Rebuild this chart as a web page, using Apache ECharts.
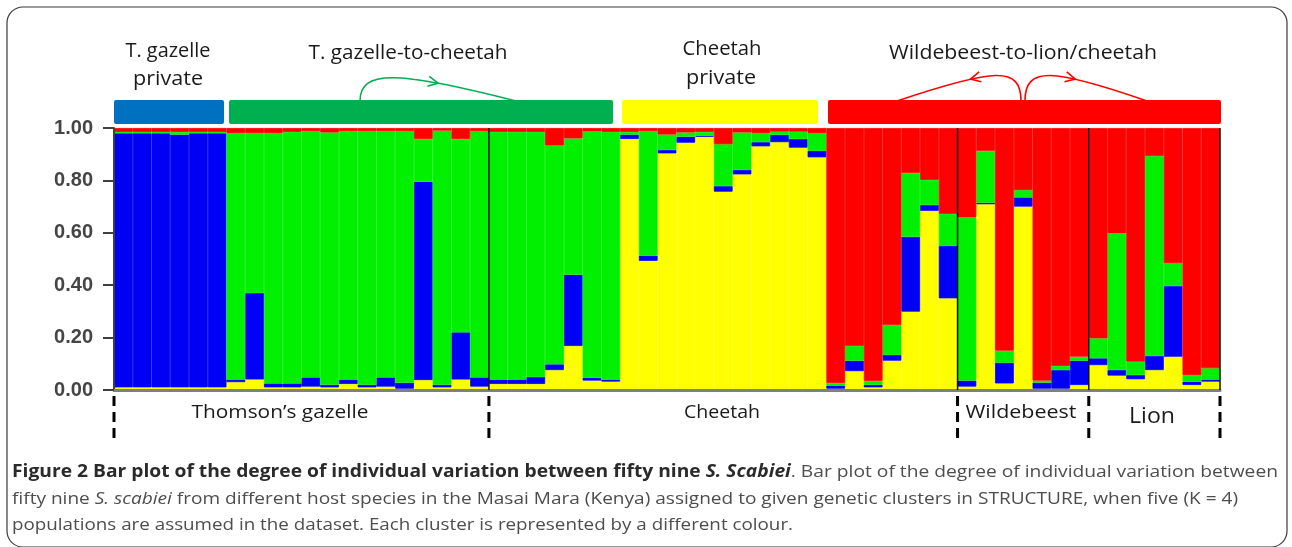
<!DOCTYPE html>
<html><head><meta charset="utf-8">
<script src="https://cdn.jsdelivr.net/npm/echarts@6/dist/echarts.min.js"></script>
<style>html,body{margin:0;padding:0;background:#fff}#c{width:1292px;height:547px}</style>
</head><body><div id="c"></div>
<script>
// ---- data ----
const individuals = ['1','2','3','4','5','6','7','8','9','10','11','12','13','14','15','16','17','18','19','20',
 '21','22','23','24','25','26','27','28','29','30','31','32','33','34','35','36','37','38','39','40',
 '41','42','43','44','45','46','47','48','49','50','51','52','53','54','55','56','57','58','59'];
const yellowVals = [0.01,0.01,0.01,0.01,0.01,0.01,0.03,0.04,0.01,0.01,0.013,0.01,0.023,0.01,0.013,0.005,0.038,0.01,0.04,0.013,
 0.023,0.023,0.023,0.076,0.168,0.036,0.032,0.958,0.493,0.903,0.944,0.967,0.757,0.823,0.93,0.946,0.925,0.888,0.005,0.072,
 0.01,0.112,0.299,0.684,0.35,0.013,0.709,0.025,0.7,0.005,0.005,0.019,0.095,0.055,0.041,0.076,0.127,0.019,0.032];
const blueVals = [0.97,0.97,0.97,0.965,0.97,0.97,0.01,0.33,0.015,0.015,0.035,0.01,0.017,0.01,0.035,0.023,0.757,0.01,0.18,0.035,
 0.017,0.017,0.027,0.022,0.272,0.011,0.008,0.017,0.02,0.013,0.023,0.003,0.021,0.017,0.016,0.028,0.033,0.025,0.012,0.04,
 0.01,0.022,0.286,0.022,0.2,0.023,0.006,0.079,0.035,0.023,0.071,0.093,0.026,0.021,0.016,0.054,0.27,0.013,0.008];
const greenVals = [0.005,0.005,0.005,0.01,0.005,0.005,0.94,0.61,0.955,0.96,0.94,0.963,0.948,0.968,0.94,0.96,0.163,0.97,0.738,0.94,
 0.945,0.945,0.935,0.835,0.52,0.94,0.945,0.01,0.475,0.059,0.016,0.015,0.16,0.143,0.034,0.012,0.028,0.067,0.01,0.056,
 0.015,0.114,0.244,0.096,0.122,0.623,0.198,0.046,0.028,0.008,0.016,0.015,0.076,0.522,0.051,0.763,0.087,0.025,0.043];
const redVals = [0.015,0.015,0.015,0.015,0.015,0.015,0.02,0.02,0.02,0.015,0.012,0.017,0.012,0.012,0.012,0.012,0.042,0.01,0.042,0.012,
 0.015,0.015,0.015,0.067,0.04,0.013,0.015,0.015,0.012,0.025,0.017,0.015,0.062,0.017,0.02,0.014,0.014,0.02,0.973,0.832,
 0.965,0.752,0.171,0.198,0.328,0.341,0.087,0.85,0.237,0.964,0.908,0.873,0.803,0.402,0.892,0.107,0.516,0.943,0.917];
const yTickValues = [0, 0.2, 0.4, 0.6, 0.8, 1.0];
const groupNames = ['Thomson’s gazelle', 'Cheetah', 'Wildebeest', 'Lion'];
const groupBounds = [0, 20, 45, 52, 59];
const clusterLabels = [['T. gazelle','private'], ['T. gazelle-to-cheetah'], ['Cheetah','private'], ['Wildebeest-to-lion/cheetah']];

// ---- chart ----
const chart = echarts.init(document.getElementById('c'), null, {renderer:'canvas'});
function bar(name, vals, color){
  return {name, type:'bar', stack:'q', data:vals, barCategoryGap:'0%', barGap:'0%',
    itemStyle:{color, borderColor:color, borderWidth:0.8}, emphasis:{disabled:true}, silent:true};
}
chart.setOption({
  animation:false,
  backgroundColor:'#ffffff',
  grid:{left:114, right:72, top:128, bottom:157},
  xAxis:{type:'category', data:individuals, boundaryGap:true, z:5,
    axisLine:{lineStyle:{color:'#7f7f7f', width:3}}, axisTick:{show:false}, axisLabel:{show:false}},
  yAxis:{type:'value', min:0, max:1, interval:0.2, z:5,
    axisLine:{show:true, lineStyle:{color:'#404040', width:2}},
    axisTick:{show:true, length:11, lineStyle:{color:'#404040', width:2}},
    splitLine:{show:false},
    axisLabel:{formatter:v=>yTickValues.includes(+v.toFixed(1)) ? v.toFixed(2) : '', margin:21, fontSize:20, fontWeight:'bold', color:'#454545', fontFamily:'Liberation Sans'}},
  series:[
    bar('Cluster Y', yellowVals, '#ffff00'),
    bar('Cluster B', blueVals, '#0000f5'),
    bar('Cluster G', greenVals, '#00f000'),
    bar('Cluster R', redVals, '#ff0000')
  ]
});

// ---- text helpers ----
const mctx = document.createElement('canvas').getContext('2d');
function measure(text, size, family, weight, style){
  mctx.font = `${style||'normal'} ${weight||'normal'} ${size}px "${family}"`;
  return mctx.measureText(text).width;
}
function fitText(text, x, y, targetW, size, family, color, align){
  const w = measure(text, size, family);
  return {type:'text', x, y, scaleX: targetW / w, z:20, silent:true,
    style:{text, x:0, y:0, fontSize:size, fontFamily:family, fill:color, textAlign:align||'center', textVerticalAlign:'middle'}};
}
function richLine(segs, x, y, targetW, size, family){
  let w = 0, text = '';
  const rich = {};
  segs.forEach((s, i) => {
    w += measure(s.t, size, family, s.w, s.s);
    rich['r'+i] = {fontSize:size, fontFamily:family, fontWeight:s.w||'normal', fontStyle:s.s||'normal', fill:s.c};
    text += '{r'+i+'|'+s.t+'}';
  });
  return {type:'text', x, y, scaleX: targetW / w, z:20, silent:true,
    style:{text, rich, x:0, y:0, textAlign:'left', textVerticalAlign:'middle'}};
}
function cubicAt(p, t){
  const u = 1 - t;
  const x = u*u*u*p[0] + 3*u*u*t*p[2] + 3*u*t*t*p[4] + t*t*t*p[6];
  const y = u*u*u*p[1] + 3*u*u*t*p[3] + 3*u*t*t*p[5] + t*t*t*p[7];
  const dx = 3*(u*u*(p[2]-p[0]) + 2*u*t*(p[4]-p[2]) + t*t*(p[6]-p[4]));
  const dy = 3*(u*u*(p[3]-p[1]) + 2*u*t*(p[5]-p[3]) + t*t*(p[7]-p[5]));
  const l = Math.hypot(dx, dy);
  return [x, y, dx/l, dy/l];
}
function arrow(p, t, color){
  const [x, y, dx, dy] = cubicAt(p, t);
  const nx = -dy, ny = dx, L = 10, W = 5;
  return [
    {type:'bezierCurve', z:20, silent:true, shape:{x1:p[0], y1:p[1], cpx1:p[2], cpy1:p[3], cpx2:p[4], cpy2:p[5], x2:p[6], y2:p[7]},
      style:{stroke:color, lineWidth:1.6, fill:null}},
    {type:'polyline', z:20, silent:true, shape:{points:[[x - L*dx + W*nx, y - L*dy + W*ny], [x, y], [x - L*dx - W*nx, y - L*dy - W*ny]]},
      style:{stroke:color, lineWidth:1.6, fill:null}}
  ];
}

// ---- decorations ----
const band = chart.convertToPixel({xAxisIndex:0}, 1) - chart.convertToPixel({xAxisIndex:0}, 0);
const c0 = chart.convertToPixel({xAxisIndex:0}, 0);
const bx = i => c0 - band/2 + i*band;
const y1 = chart.convertToPixel({yAxisIndex:0}, 1);
const y0 = chart.convertToPixel({yAxisIndex:0}, 0);

const g = [];
// frame
g.push({type:'rect', z:1, silent:true, shape:{x:7, y:7, width:1280, height:540, r:16}, style:{fill:null, stroke:'#3a3a3a', lineWidth:1.2}});
// group separators inside plot
[1,2,3,4].forEach(k => {
  const x = bx(groupBounds[k]);
  g.push({type:'line', z:15, silent:true, shape:{x1:x, y1:y1, x2:x, y2:y0}, style:{stroke:'#111', lineWidth:1.5}});
});
// dashed boundaries below
groupBounds.forEach(b => {
  const x = bx(b);
  g.push({type:'line', z:15, silent:true, shape:{x1:x, y1:396, x2:x, y2:440}, style:{stroke:'#000', lineWidth:3, lineDash:[10,6]}});
});
// group labels
g.push(fitText(groupNames[0], 280, 413, 177, 19, 'Open Sans', '#1a1a1a'));
g.push(fitText(groupNames[1], 722, 413, 76, 19, 'Open Sans', '#1a1a1a'));
g.push(fitText(groupNames[2], 1021, 413, 111, 19, 'Open Sans', '#1a1a1a'));
g.push(fitText(groupNames[3], 1152, 417, 46, 22, 'Open Sans', '#1a1a1a'));
// cluster header bars
[[114,224,'#0070c0'],[229,613,'#00b050'],[622,818,'#ffff00'],[828,1221,'#ff0000']].forEach(r => {
  g.push({type:'rect', z:10, silent:true, shape:{x:r[0], y:100, width:r[1]-r[0], height:24, r:2}, style:{fill:r[2]}});
});
// cluster header labels
g.push(fitText(clusterLabels[0][0], 168, 51, 85, 20, 'Open Sans', '#1a1a1a'));
g.push(fitText(clusterLabels[0][1], 168, 79, 70, 20, 'Open Sans', '#1a1a1a'));
g.push(fitText(clusterLabels[1][0], 408, 53, 199, 20, 'Open Sans', '#1a1a1a'));
g.push(fitText(clusterLabels[2][0], 722, 49, 79, 20, 'Open Sans', '#1a1a1a'));
g.push(fitText(clusterLabels[2][1], 721, 78, 70, 20, 'Open Sans', '#1a1a1a'));
g.push(fitText(clusterLabels[3][0], 1023, 53, 268, 20, 'Open Sans', '#1a1a1a'));
// arrows
arrow([360,101, 360,70, 395,70, 516,101], 0.74, '#00b050').forEach(e => g.push(e));
arrow([1021,101, 1021,66, 995,68, 897,101], 0.68, '#ff0000').forEach(e => g.push(e));
arrow([1025,101, 1025,66, 1052,68, 1147,101], 0.68, '#ff0000').forEach(e => g.push(e));
// caption
const B = '#2a2a2a', N = '#4d4d4d';
g.push(richLine([
  {t:'Figure 2 Bar plot of the degree of individual variation between fifty nine ', w:'bold', c:B},
  {t:'S. Scabiei', w:'bold', s:'italic', c:B},
  {t:'. Bar plot of the degree of individual variation between', c:N}
], 12, 472, 1266, 17, 'Open Sans'));
g.push(richLine([
  {t:'fifty nine ', c:N},
  {t:'S. scabiei', s:'italic', c:N},
  {t:' from different host species in the Masai Mara (Kenya) assigned to given genetic clusters in STRUCTURE, when five (K = 4)', c:N}
], 12, 499, 1226, 17, 'Open Sans'));
g.push(richLine([
  {t:'populations are assumed in the dataset. Each cluster is represented by a different colour.', c:N}
], 12, 525, 781, 17, 'Open Sans'));

chart.setOption({graphic:g});
</script></body></html>
